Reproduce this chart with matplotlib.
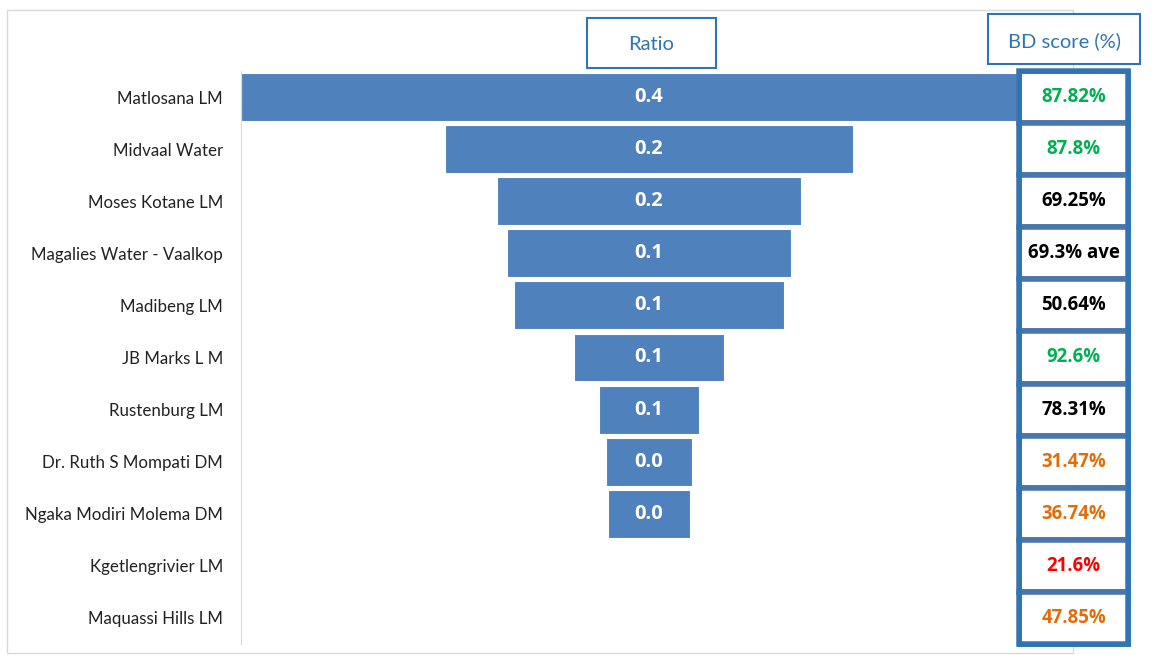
import matplotlib

matplotlib.use("agg")
from matplotlib import pyplot as plt
from matplotlib.patches import Rectangle
from matplotlib.transforms import blended_transform_factory
import numpy as np

plt.rcParams["font.family"] = ["Lato", "DejaVu Sans"]

names = ["Matlosana LM", "Midvaal Water", "Moses Kotane LM",
         "Magalies Water - Vaalkop", "Madibeng LM", "JB Marks L M",
         "Rustenburg LM", "Dr. Ruth S Mompati DM", "Ngaka Modiri Molema DM",
         "Kgetlengrivier LM", "Maquassi Hills LM"]
ratio = [0.418, 0.209, 0.156, 0.146, 0.138, 0.077, 0.051, 0.044, 0.042, 0.0, 0.0]
bd_score = ["87.82%", "87.8%", "69.25%", "69.3% ave", "50.64%", "92.6%",
            "78.31%", "31.47%", "36.74%", "21.6%", "47.85%"]
bd_color = ["#00B050", "#00B050", "black", "black", "black", "#00B050",
            "black", "#E36C09", "#E36C09", "#FF0000", "#E36C09"]

W, H = 1168, 655
fig = plt.figure(figsize=(W / 100, H / 100), dpi=100)


def fx(x):
    return x / W


def fy(y):
    return 1 - y / H


# outer light frame, behind everything
fig.add_artist(Rectangle((fx(7), fy(653)), fx(1073 - 7), (653 - 10) / H,
                         transform=fig.transFigure, fill=False,
                         edgecolor="#d9d9d9", lw=1, zorder=-1))

# axes: pixel x 241..1073, y 71..644, funnel centred at x=649
ax = fig.add_axes([fx(241), fy(644), fx(1073 - 241), (644 - 71) / H])
scale = 1950.0  # px per ratio unit
ax.set_xlim(-408 / scale, 424 / scale)
n = len(names)
ax.set_ylim(n - 0.5, -0.5)

y = np.arange(n)
r = np.array(ratio)
ax.barh(y, r, left=-r / 2, height=0.92, color="#4F81BD", edgecolor="white",
        lw=0.8, zorder=2)
for yi, v in zip(y, ratio):
    if v > 0:
        ax.text(0, yi, f"{v:.1f}", ha="center", va="center", color="white",
                fontsize=14.5, fontweight="bold", family="Open Sans",
                zorder=3)

ax.set_yticks(y)
ax.set_yticklabels(names, fontsize=12.2, color="#222222")
ax.tick_params(axis="y", length=0, pad=13)
ax.set_xticks([])
for s in ["top", "right", "bottom"]:
    ax.spines[s].set_visible(False)
ax.spines["left"].set_color("#d9d9d9")

# BD score column
tr = blended_transform_factory(fig.transFigure, ax.transData)
x0, x1 = fx(1019), fx(1128)
for yi, (s, c) in enumerate(zip(bd_score, bd_color)):
    ax.add_patch(Rectangle((x0, yi - 0.5), x1 - x0, 1.0, transform=tr,
                           facecolor="white", edgecolor="#4A76AD", lw=4,
                           clip_on=False, zorder=4))
    ax.text((x0 + x1) / 2, yi, s, transform=tr, ha="center", va="center",
            color=c, fontsize=13.4, fontweight="bold", family="Open Sans",
            zorder=5)
ax.add_patch(Rectangle((x0, -0.5), x1 - x0, n, transform=tr, fill=False,
                       edgecolor="#2E75B6", lw=3.5, clip_on=False, zorder=6))

# header boxes
for text, (l, t, r_, b) in [("Ratio", (587, 18, 716, 68)),
                            ("BD score (%)", (988, 14, 1140, 64))]:
    fig.add_artist(Rectangle((fx(l), fy(b)), fx(r_ - l), (b - t) / H,
                             transform=fig.transFigure, facecolor="white",
                             edgecolor="#2E75B6", lw=1.5, zorder=6))
    fig.text(fx((l + r_) / 2), fy((t + b) / 2 + 2), text, ha="center",
             va="center", color="#2E75B6", fontsize=14.5, zorder=7)

fig.savefig("out.png", dpi=100)
